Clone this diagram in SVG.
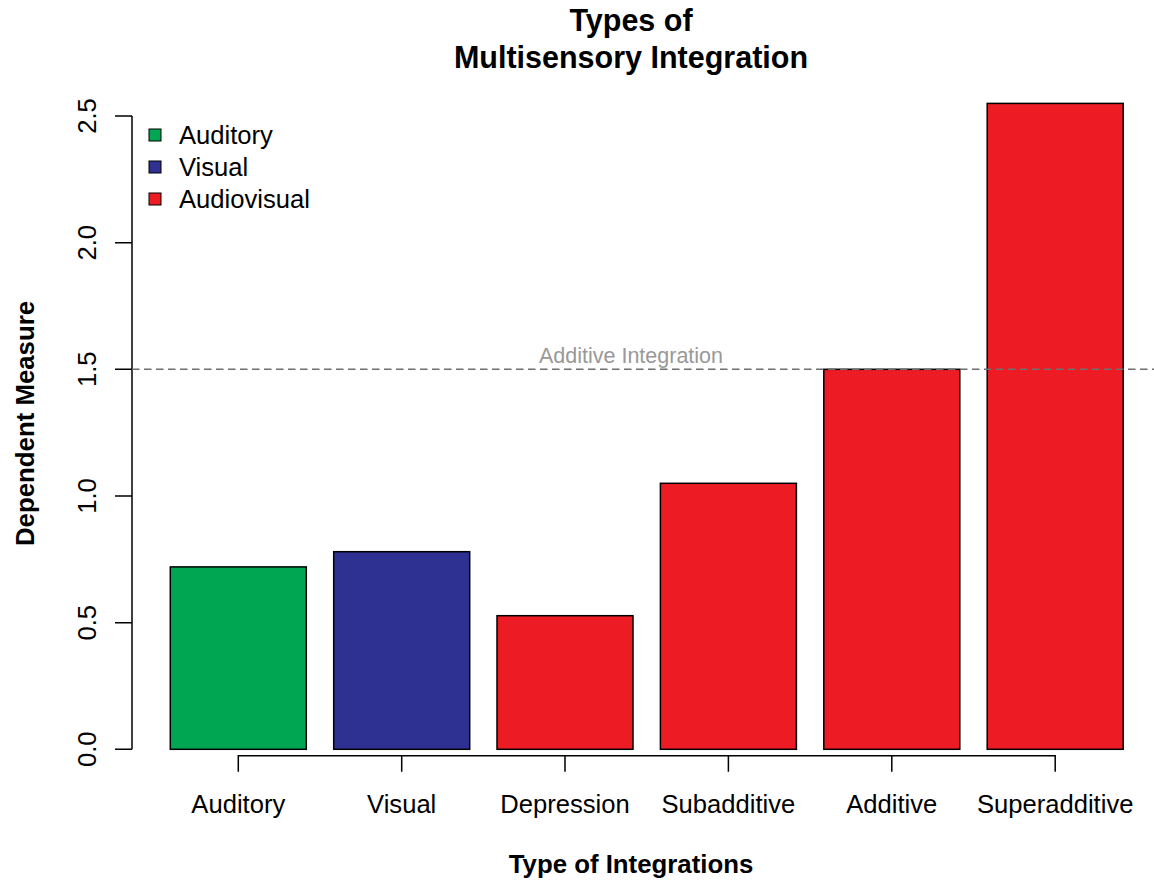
<svg xmlns="http://www.w3.org/2000/svg" width="1154" height="882" viewBox="0 0 1154 882">
<style>
text{font-family:"Liberation Sans",Arial,sans-serif;fill:#000}
.title{font-size:30.5px;font-weight:bold;text-anchor:middle}
.lab{font-size:25.8px;font-weight:bold;text-anchor:middle}
.tick{font-size:25.6px;text-anchor:middle}
.leg{font-size:25.6px}
.bar{stroke:#000;stroke-width:1.5}
.ax{stroke:#000;stroke-width:1.5;fill:none}
.green{fill:#00A651}.blue{fill:#2E3192}.red{fill:#ED1C24}
</style>
<rect width="1154" height="882" fill="#fff"/>
<g id="title">
<text class="title" x="631" y="31">Types of</text>
<text class="title" x="631" y="68">Multisensory Integration</text>
</g>
<g id="y-axis">
<path class="ax" d="M132,116V749.3M115,116H132M115,242.7H132M115,369.3H132M115,496H132M115,622.7H132M115,749.3H132"/>
<text class="tick" transform="translate(96,116) rotate(-90)">2.5</text>
<text class="tick" transform="translate(96,242.7) rotate(-90)">2.0</text>
<text class="tick" transform="translate(96,369.3) rotate(-90)">1.5</text>
<text class="tick" transform="translate(96,496) rotate(-90)">1.0</text>
<text class="tick" transform="translate(96,622.7) rotate(-90)">0.5</text>
<text class="tick" transform="translate(96,749.3) rotate(-90)">0.0</text>
<text class="lab" transform="translate(34,423.5) rotate(-90)">Dependent Measure</text>
</g>
<g id="x-axis">
<path class="ax" d="M238.3,771.7V755.7H1055.2V771.7M401.7,755.7V771.7M565,755.7V771.7M728.4,755.7V771.7M891.8,755.7V771.7"/>
<text class="tick" x="238.3" y="813">Auditory</text>
<text class="tick" x="401.7" y="813">Visual</text>
<text class="tick" x="565" y="813">Depression</text>
<text class="tick" x="728.4" y="813">Subadditive</text>
<text class="tick" x="891.8" y="813">Additive</text>
<text class="tick" x="1055.2" y="813">Superadditive</text>
<text class="lab" x="631" y="873">Type of Integrations</text>
</g>
<g id="bar-auditory"><rect class="bar green" x="170.3" y="566.9" width="136" height="182.4"/></g>
<g id="bar-visual"><rect class="bar blue" x="333.7" y="551.7" width="136" height="197.6"/></g>
<g id="bar-depression"><rect class="bar red" x="497" y="615.7" width="136" height="133.6"/></g>
<g id="bar-subadditive"><rect class="bar red" x="660.4" y="483.3" width="136" height="266"/></g>
<g id="bar-additive"><rect class="bar red" x="823.8" y="369.3" width="136" height="380"/></g>
<g id="bar-superadditive"><rect class="bar red" x="987.2" y="103.4" width="136" height="645.9"/></g>
<g id="additive-line">
<line x1="132" y1="369.3" x2="1154" y2="369.3" stroke="#6e6e6e" stroke-width="1.5" stroke-dasharray="7.5,4.5"/>
<text x="631" y="363" style="font-size:21.5px;fill:#999;text-anchor:middle">Additive Integration</text>
</g>
<g id="legend">
<rect class="green" x="149" y="129" width="12" height="12" stroke="#000" stroke-width="1"/>
<rect class="blue" x="149" y="161" width="12" height="12" stroke="#000" stroke-width="1"/>
<rect class="red" x="149" y="193" width="12" height="12" stroke="#000" stroke-width="1"/>
<text class="leg" x="179" y="144">Auditory</text>
<text class="leg" x="179" y="176">Visual</text>
<text class="leg" x="179" y="208">Audiovisual</text>
</g>
</svg>
